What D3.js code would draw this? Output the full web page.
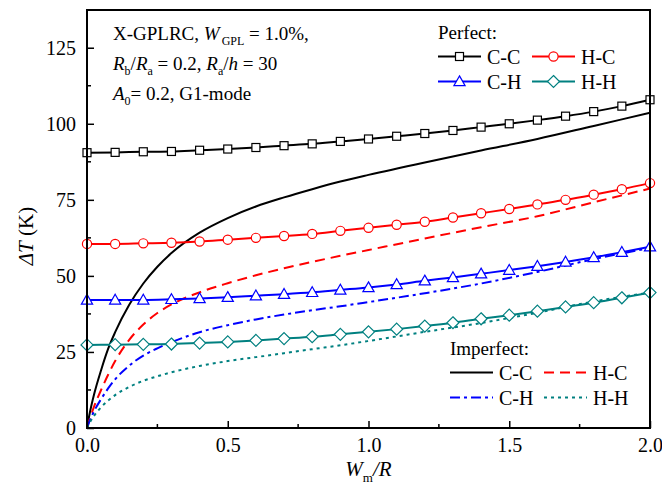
<!DOCTYPE html>
<html><head><meta charset="utf-8">
<script src="https://cdn.jsdelivr.net/npm/d3@7"></script>
<style>
html,body{margin:0;padding:0;background:#fff;}
svg text{font-family:"Liberation Serif","Times New Roman",serif;fill:#000;}
</style></head>
<body><svg id="c" width="662" height="492"></svg>
<script>
// ---- data ----
const xPerfect = [0,0.1,0.2,0.3,0.4,0.5,0.6,0.7,0.8,0.9,1.0,1.1,1.2,1.3,1.4,1.5,1.6,1.7,1.8,1.9,2.0];
const perfCC = [90.5,90.6,90.8,90.9,91.3,91.7,92.2,92.8,93.4,94.2,95.0,95.9,96.8,97.8,98.9,100.0,101.2,102.5,104.0,105.8,107.9];
const perfHC = [60.5,60.5,60.7,60.9,61.3,61.9,62.5,63.1,63.8,64.8,65.8,66.8,67.8,69.2,70.6,72.0,73.5,75.0,76.7,78.5,80.5];
const perfCH = [42.1,42.1,42.1,42.3,42.6,43.0,43.5,44.0,44.6,45.4,46.2,47.2,48.4,49.5,50.7,51.9,53.2,54.6,56.1,57.8,59.6];
const perfHH = [27.3,27.4,27.5,27.6,27.9,28.3,28.8,29.4,30.0,30.8,31.6,32.5,33.5,34.6,35.9,37.1,38.4,39.8,41.2,42.8,44.5];

const xImperfect = [0,0.01,0.025,0.05,0.075,0.1,0.15,0.2,0.25,0.3,0.4,0.5,0.6,0.7,0.8,0.9,1.0,1.2,1.4,1.6,1.8,2.0];
const impCC = [0,5,11,19,26,31.5,40.5,47.5,53,57.5,64.2,69,72.8,75.8,78.5,81,83.2,87.3,91.2,95,99.3,103.6];
const impHC = [0,3,7,12.5,17.5,22,29,34,37.8,40.6,44.6,47.6,50.2,52.5,54.6,56.6,58.5,62.3,66,69.6,74.2,78.7];
const impCH = [0,2.5,5.5,9.5,13,16,20.5,23.8,26.2,28.2,31.5,33.8,35.7,37.3,38.7,40,41.4,44.3,47.5,51.3,55.5,59.2];
const impHH = [0,1.8,4,6.8,9,10.8,13.5,15.5,17,18.3,20.4,22,23.3,24.6,25.9,27.2,28.6,31.6,34.5,37.9,41.6,44.5];

const xTicks = [0,0.5,1.0,1.5,2.0];
const yTicks = [0,25,50,75,100,125];
const seriesNames = ["C-C","H-C","C-H","H-H"];
const seriesColors = ["#000000","#ff0000","#0000ff","#008080"];

// ---- layout ----
const svg = d3.select("#c");
const L=87, R=650, T=10, B=428;
const x = d3.scaleLinear().domain([0,2.0]).range([L,R]);
const y = d3.scaleLinear().domain([0,137.4]).range([B,T]);

const perf = [perfCC,perfHC,perfCH,perfHH];
const imp = [impCC,impHC,impCH,impHH];
const dashes = [null,"10,6","10,4,3,4","3,4"];
const markerTypes = ["square","circle","triangle","diamond"];

// imperfect lines
imp.forEach((arr,i)=>{
  const line = d3.line().x((d,j)=>x(xImperfect[j])).y(d=>y(d)).curve(d3.curveMonotoneX);
  svg.append("path").attr("d",line(arr)).attr("fill","none")
    .attr("stroke",seriesColors[i]).attr("stroke-width",2)
    .attr("stroke-dasharray",dashes[i]);
});

function drawMarker(g,type,cx,cy,color){
  if(type==="square"){
    g.append("rect").attr("x",cx-4).attr("y",cy-4).attr("width",8).attr("height",8)
      .attr("fill","#fff").attr("stroke",color).attr("stroke-width",1.2);
  } else if(type==="circle"){
    g.append("circle").attr("cx",cx).attr("cy",cy).attr("r",4.6)
      .attr("fill","#fff").attr("stroke",color).attr("stroke-width",1.2);
  } else if(type==="triangle"){
    const s=5.6;
    g.append("path").attr("d",`M${cx},${cy-s}L${cx+s},${cy+s*0.75}L${cx-s},${cy+s*0.75}Z`)
      .attr("fill","#fff").attr("stroke",color).attr("stroke-width",1.2);
  } else {
    const s=6;
    g.append("path").attr("d",`M${cx},${cy-s}L${cx+s},${cy}L${cx},${cy+s}L${cx-s},${cy}Z`)
      .attr("fill","#fff").attr("stroke",color).attr("stroke-width",1.2);
  }
}

// perfect lines with markers
perf.forEach((arr,i)=>{
  const line = d3.line().x((d,j)=>x(xPerfect[j])).y(d=>y(d)).curve(d3.curveMonotoneX);
  svg.append("path").attr("d",line(arr)).attr("fill","none")
    .attr("stroke",seriesColors[i]).attr("stroke-width",2);
  const g = svg.append("g");
  arr.forEach((v,j)=>drawMarker(g,markerTypes[i],x(xPerfect[j]),y(v),seriesColors[i]));
});

// axes
const xAxis = d3.axisBottom(x).tickValues(xTicks).tickFormat(d3.format(".1f")).tickSizeInner(-7).tickSizeOuter(0).tickPadding(10);
const gx = svg.append("g").attr("transform",`translate(0,${B})`).call(xAxis);
const yAxis = d3.axisLeft(y).tickValues(yTicks).tickFormat(d3.format("d")).tickSizeInner(-7).tickSizeOuter(0).tickPadding(11);
const gy = svg.append("g").attr("transform",`translate(${L},0)`).call(yAxis);
[gx,gy].forEach(g=>{
  g.select(".domain").remove();
  g.selectAll(".tick line").attr("stroke","#000").attr("stroke-width",1.5);
  g.selectAll(".tick text").attr("font-size",20).attr("font-family","Liberation Serif");
});
// minor ticks
const xMinor = [0.25,0.75,1.25,1.75];
const yMinor = [12.5,37.5,62.5,87.5,112.5];
svg.append("g").selectAll("line").data(xMinor).join("line")
  .attr("x1",d=>x(d)).attr("x2",d=>x(d)).attr("y1",B).attr("y2",B-4)
  .attr("stroke","#000").attr("stroke-width",1.5);
svg.append("g").selectAll("line").data(yMinor).join("line")
  .attr("y1",d=>y(d)).attr("y2",d=>y(d)).attr("x1",L).attr("x2",L+4)
  .attr("stroke","#000").attr("stroke-width",1.5);

// frame
svg.append("rect").attr("x",L).attr("y",T).attr("width",R-L).attr("height",B-T)
  .attr("fill","none").attr("stroke","#000").attr("stroke-width",2);

// axis titles
const xt = svg.append("text").attr("x",(L+R)/2).attr("y",476).attr("text-anchor","middle").attr("font-size",21);
xt.append("tspan").attr("font-style","italic").text("W");
xt.append("tspan").attr("font-size",13).attr("dy",6).text("m");
xt.append("tspan").attr("font-style","italic").attr("dy",-6).text("/R");

const yt = svg.append("text").attr("transform","translate(33,236) rotate(-90)").attr("text-anchor","middle").attr("font-size",21);
yt.append("tspan").attr("font-style","italic").text("ΔT");
yt.append("tspan").text(" (K)");

// annotation
const ax = 113;
const a1 = svg.append("text").attr("x",ax).attr("y",40).attr("font-size",19);
a1.append("tspan").text("X-GPLRC, ");
a1.append("tspan").attr("font-style","italic").text("W");
a1.append("tspan").attr("font-size",12).attr("dy",5).attr("dx",2).text("GPL");
a1.append("tspan").attr("dy",-5).text(" = 1.0%,");

const a2 = svg.append("text").attr("x",ax).attr("y",70).attr("font-size",19);
a2.append("tspan").attr("font-style","italic").text("R");
a2.append("tspan").attr("font-size",12).attr("dy",5).text("b");
a2.append("tspan").attr("dy",-5).text("/");
a2.append("tspan").attr("font-style","italic").text("R");
a2.append("tspan").attr("font-size",12).attr("dy",5).text("a");
a2.append("tspan").attr("dy",-5).text(" = 0.2, ");
a2.append("tspan").attr("font-style","italic").text("R");
a2.append("tspan").attr("font-size",12).attr("dy",5).text("a");
a2.append("tspan").attr("dy",-5).text("/");
a2.append("tspan").attr("font-style","italic").text("h");
a2.append("tspan").text(" = 30");

const a3 = svg.append("text").attr("x",ax).attr("y",100).attr("font-size",19);
a3.append("tspan").attr("font-style","italic").text("A");
a3.append("tspan").attr("font-size",12).attr("dy",5).text("0");
a3.append("tspan").attr("dy",-5).text("= 0.2, G1-mode");

// legends
function legend(title, tx, ty, rows, withMarkers, dashList){
  svg.append("text").attr("x",tx).attr("y",ty).attr("font-size",19).text(title);
  const cols = [tx, tx+94];
  seriesNames.forEach((n,i)=>{
    const cx = cols[i%2], cy = ty + rows[Math.floor(i/2)];
    svg.append("line").attr("x1",cx).attr("x2",cx+43).attr("y1",cy).attr("y2",cy)
      .attr("stroke",seriesColors[i]).attr("stroke-width",2).attr("stroke-dasharray",dashList[i]);
    if(withMarkers) drawMarker(svg,markerTypes[i],cx+21.5,cy,seriesColors[i]);
    svg.append("text").attr("x",cx+49).attr("y",cy+7).attr("font-size",20).text(n);
  });
}
legend("Perfect:",438,39,[17.5,42.5],true,[null,null,null,null]);
legend("Imperfect:",450,355,[17.5,42.5],false,dashes);
</script></body></html>
